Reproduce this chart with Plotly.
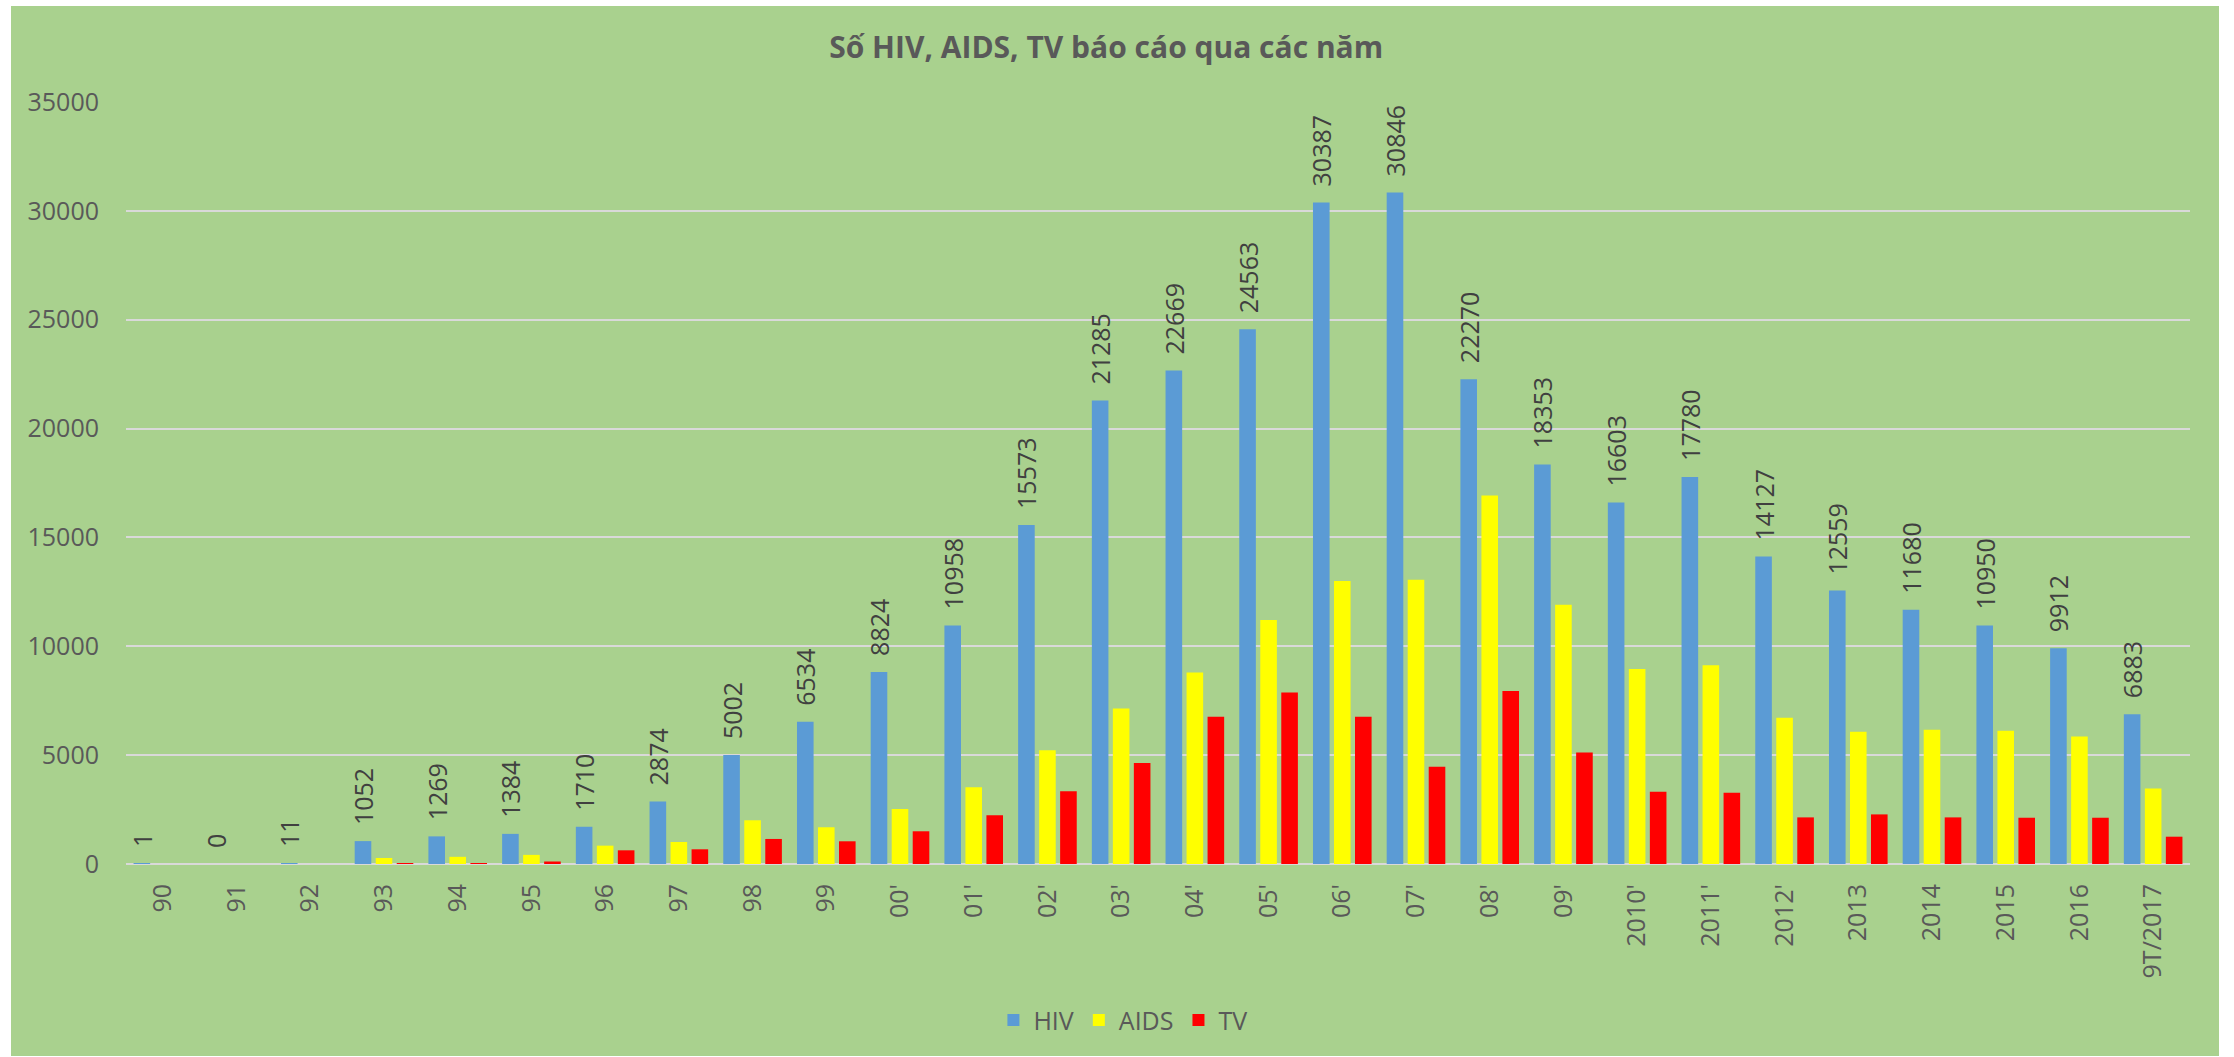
import plotly.graph_objects as go

categories = ["90", "91", "92", "93", "94", "95", "96", "97", "98", "99",
              "00'", "01'", "02'", "03'", "04'", "05'", "06'", "07'", "08'", "09'",
              "2010'", "2011'", "2012'", "2013", "2014", "2015", "2016", "9T/2017"]
hiv = [1, 0, 11, 1052, 1269, 1384, 1710, 2874, 5002, 6534,
       8824, 10958, 15573, 21285, 22669, 24563, 30387, 30846, 22270, 18353,
       16603, 17780, 14127, 12559, 11680, 10950, 9912, 6883]
aids = [0, 0, 0, 276, 330, 420, 843, 1012, 2009, 1687,
        2531, 3528, 5230, 7140, 8792, 11208, 12997, 13058, 16927, 11911,
        8960, 9128, 6713, 6070, 6162, 6116, 5856, 3471]
tv = [0, 0, 0, 20, 30, 115, 629, 675, 1150, 1043,
      1503, 2239, 3344, 4640, 6758, 7875, 6758, 4465, 7951, 5122,
      3318, 3272, 2141, 2278, 2141, 2125, 2125, 1254]
y_ticks = [0, 5000, 10000, 15000, 20000, 25000, 30000, 35000]

FONT = "Open Sans, Roboto, DejaVu Sans, sans-serif"
BG = "#A9D18E"

fig = go.Figure()
fig.add_trace(go.Bar(
    name="HIV", x=categories, y=hiv, marker=dict(color="#5B9BD5", line=dict(width=0)),
    text=["\u00a0\u00a0" + str(v) for v in hiv], textposition="outside", textangle=-90,
    constraintext="none", cliponaxis=False,
    outsidetextfont=dict(family=FONT, size=25, color="#404040"),
))
fig.add_trace(go.Bar(
    name="AIDS", x=categories, y=aids, marker=dict(color="#FFFF00", line=dict(width=0)),
))
fig.add_trace(go.Bar(
    name="TV", x=categories, y=tv, marker=dict(color="#FF0000", line=dict(width=0)),
))

fig.update_layout(
    width=2208, height=1050,
    margin=dict(l=115, r=29, t=96, b=192, pad=0),
    paper_bgcolor=BG, plot_bgcolor=BG,
    barmode="group", bargap=0.145, bargroupgap=0.21,
    font=dict(family=FONT, size=25, color="#595959"),
    title=dict(text="<b>Số HIV, AIDS, TV báo cáo qua các năm</b>",
               x=0.496, xanchor="center", y=1 - 41 / 1050, yanchor="middle",
               font=dict(family=FONT, size=30, color="#595959")),
    showlegend=True,
    legend=dict(orientation="h", x=0.483, xanchor="center", y=-0.205, yanchor="middle",
                font=dict(family=FONT, size=25, color="#595959"),
                bgcolor="rgba(0,0,0,0)", itemsizing="constant", itemwidth=30),
    xaxis=dict(type="category", tickangle=-90, showgrid=False, showline=False,
               ticks="", ticklabelstandoff=14,
               tickfont=dict(family=FONT, size=25, color="#595959")),
    yaxis=dict(range=[0, 35000], tickvals=y_ticks, tickformat="d", showgrid=True,
               gridcolor="#D9D9D9", gridwidth=2, zeroline=True, zerolinecolor="#D9D9D9",
               zerolinewidth=2, showline=False, ticks="", ticklabelstandoff=26,
               tickfont=dict(family=FONT, size=25, color="#595959")),
)

fig.write_html("out.html", post_script="document.body.style.margin='6px 0 0 11px';")
